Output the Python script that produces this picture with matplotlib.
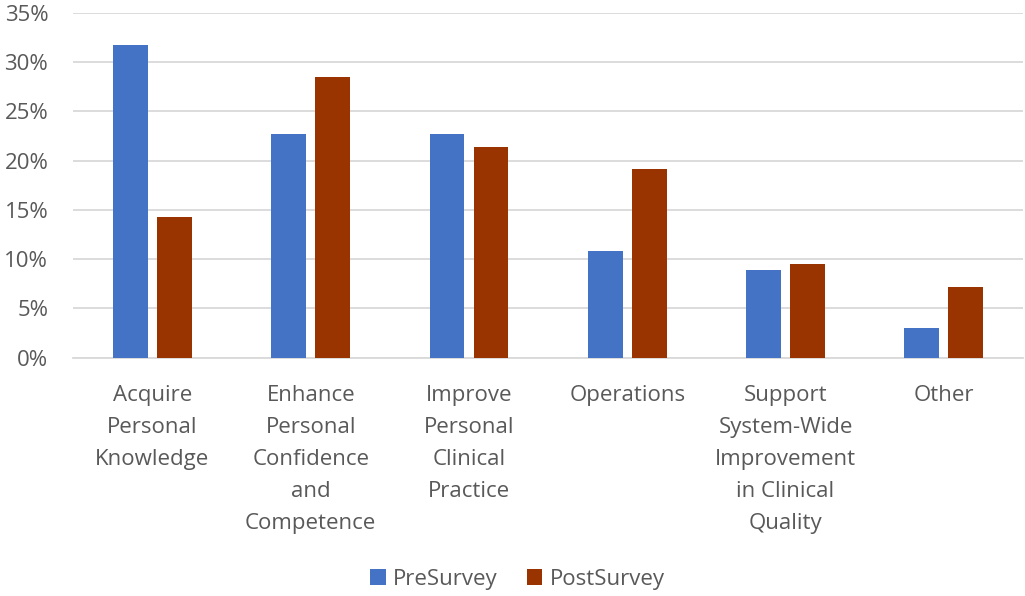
import matplotlib
matplotlib.use('Agg')
import matplotlib.pyplot as plt
import numpy as np
from matplotlib.ticker import PercentFormatter

categories = ['Acquire\nPersonal\nKnowledge',
              'Enhance\nPersonal\nConfidence\nand\nCompetence',
              'Improve\nPersonal\nClinical\nPractice',
              'Operations',
              'Support\nSystem-Wide\nImprovement\nin Clinical\nQuality',
              'Other']
pre_survey = [31.7, 22.7, 22.7, 10.8, 8.9, 3.0]
post_survey = [14.3, 28.5, 21.4, 19.1, 9.5, 7.2]
yticks = [0, 5, 10, 15, 20, 25, 30, 35]

plt.rcParams['font.family'] = ['Open Sans', 'DejaVu Sans']
text_color = '#595959'
fs = 16

fig = plt.figure(figsize=(10.25, 5.96), dpi=100)
ax = fig.add_axes([0.0715, 0.4, 0.9265, 0.5787])

x = np.arange(len(categories))
w = 0.22
off = 0.139
ax.bar(x - off, pre_survey, w, color='#4472C4', label='PreSurvey', zorder=3)
ax.bar(x + off, post_survey, w, color='#993300', label='PostSurvey', zorder=3)

ax.set_xlim(-0.5, len(categories) - 0.5)
ax.set_ylim(0, 35)
ax.set_yticks(yticks)
ax.yaxis.set_major_formatter(PercentFormatter(decimals=0))
ax.grid(axis='y', color='#D9D9D9', linewidth=1.3, zorder=0)
ax.set_axisbelow(True)
for s in ['top', 'right', 'left']:
    ax.spines[s].set_visible(False)
ax.spines['bottom'].set_color('#D9D9D9')
ax.spines['bottom'].set_linewidth(1.3)

ax.set_xticks(x)
ax.set_xticklabels(categories, linespacing=1.68, va='top')
ax.tick_params(axis='x', length=0, pad=20, labelsize=fs, colors=text_color)
ax.tick_params(axis='y', length=0, pad=18, labelsize=fs, colors=text_color)

leg = fig.legend(loc='center', bbox_to_anchor=(0.505, 0.028), ncol=2, frameon=False,
                 fontsize=fs, handlelength=0.7, handleheight=0.7, columnspacing=1.3,
                 handletextpad=0.35)
for t in leg.get_texts():
    t.set_color(text_color)

fig.savefig('out.png', dpi=100)
